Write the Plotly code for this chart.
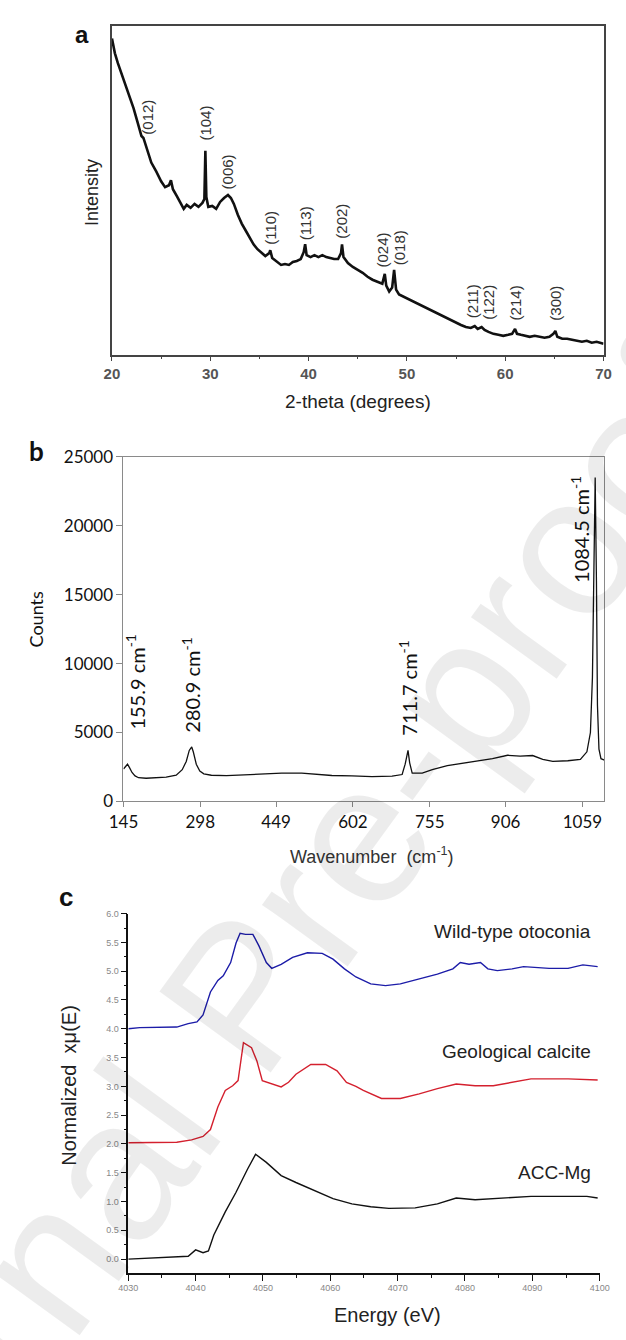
import plotly.graph_objects as go

W, H = 626, 1340

# ---------------- Panel a: XRD ----------------
xrd_2theta = [20.0, 20.3, 20.6, 21.0, 21.4, 21.8, 22.2, 22.6, 23.0, 23.2, 23.5, 24.0, 24.5, 25.0, 25.4,
              25.8, 26.0, 26.2, 26.6, 27.0, 27.3, 27.6, 28.0, 28.4, 28.8, 29.2, 29.4, 29.5, 29.6, 29.8,
              30.2, 30.6, 31.0, 31.4, 31.8, 32.1, 32.4, 32.8, 33.2, 33.6, 34.0, 34.4, 34.8, 35.2, 35.6,
              36.0, 36.1, 36.3, 36.8, 37.2, 37.6, 38.0, 38.4, 38.8, 39.2, 39.5, 39.65, 39.8, 40.2, 40.6,
              41.0, 41.4, 41.8, 42.2, 42.6, 43.0, 43.3, 43.4, 43.55, 44.0, 44.5, 45.0, 45.5, 46.0, 46.5,
              47.0, 47.5, 47.75, 47.9, 48.2, 48.5, 48.7, 48.9, 49.2, 49.6, 50.0, 50.5, 51.0, 51.5, 52.0,
              52.5, 53.0, 53.5, 54.0, 54.5, 55.0, 55.5, 56.0, 56.5, 56.9, 57.2, 57.6, 57.9, 58.3, 58.8,
              59.3, 59.8, 60.3, 60.7, 61.0, 61.2, 61.6, 62.0, 62.5, 63.0, 63.5, 64.0, 64.5, 64.9, 65.1,
              65.3, 65.8, 66.3, 66.8, 67.3, 67.8, 68.3, 68.8, 69.3, 70.0]
xrd_intensity = [321, 306, 296, 285, 274, 262, 250, 236, 222, 220, 210, 195, 186, 176, 170,
                 172, 177, 168, 161, 154, 148, 152, 149, 153, 150, 154, 158, 207, 160, 150,
                 151, 148, 155, 159, 162, 159, 153, 142, 133, 126, 119, 112, 107, 103, 100,
                 103, 106, 98, 94, 91, 92, 91, 94, 95, 97, 104, 112, 101, 99, 101,
                 99, 101, 99, 98, 97, 97, 103, 112, 99, 93, 89, 86, 83, 79, 76,
                 74, 72, 82, 70, 64, 68, 86, 66, 61, 59, 57, 55, 52, 50, 47,
                 45, 42, 40, 37, 35, 32, 30, 28, 27, 29, 26, 28, 25, 23, 21,
                 20, 19, 20, 21, 26, 21, 20, 19, 18, 19, 18, 17, 18, 21, 24,
                 18, 16, 16, 15, 14, 13, 14, 12, 13, 11]
xrd_labels = ["(012)", "(104)", "(006)", "(110)", "(113)", "(202)", "(024)", "(018)",
              "(211)", "(122)", "(214)", "(300)"]
xrd_label_x = [23.6, 29.5, 31.7, 36.1, 39.7, 43.4, 47.5, 49.2, 56.7, 58.3, 61.0, 65.1]
xrd_label_y = [241, 235, 186, 129, 133, 135, 106, 108, 54, 53, 52, 52]
xrd_xticks = [20, 30, 40, 50, 60, 70]

# ---------------- Panel b: Raman ----------------
raman_wavenumber = [145, 150, 153, 157, 162, 168, 175, 190, 210, 230, 250, 262, 270, 276, 280.9,
                    284, 290, 297, 305, 320, 350, 380, 420, 460, 500, 530, 560, 600, 640, 680,
                    700, 706, 711.7, 715, 720, 740, 760, 790, 820, 850, 880, 910, 935, 960, 980,
                    1000, 1030, 1055, 1068, 1075, 1079, 1082, 1084.5, 1087, 1089, 1092, 1096, 1103]
raman_counts = [2350, 2600, 2700, 2450, 2100, 1850, 1720, 1680, 1700, 1760, 1900, 2300, 2900, 3700, 3950,
                3600, 2700, 2200, 2000, 1900, 1870, 1920, 1980, 2050, 2050, 1960, 1880, 1850, 1800, 1830,
                1950, 2700, 3700, 2800, 2050, 2050, 2300, 2600, 2750, 2900, 3100, 3350, 3280, 3330, 3050,
                2900, 2950, 3050, 3600, 5000, 9000, 17000, 23500, 16000, 7000, 3800, 3100, 3000]
raman_labels = ["155.9 cm<sup>-1</sup>", "280.9 cm<sup>-1</sup>", "711.7 cm<sup>-1</sup>",
                "1084.5 cm<sup>-1</sup>"]
raman_label_x = [168, 280, 712, 1053]
raman_label_y = [5070, 4860, 4640, 15700]
raman_xticks = [145, 298, 449, 602, 755, 906, 1059]
raman_yticks = [0, 5000, 10000, 15000, 20000, 25000]

# ---------------- Panel c: XANES ----------------
wt_energy = [4030, 4031.7, 4037.2, 4038.9, 4040.2, 4041.1, 4042.2, 4043.3, 4044.1, 4045.2, 4046.0,
             4046.6, 4047.4, 4048.5, 4049.4, 4050.5, 4051.3, 4052.7, 4054.4, 4056.6, 4058.8, 4060.4,
             4062.1, 4063.8, 4066.0, 4068.2, 4070.4, 4073.2, 4075.9, 4078.2, 4079.3, 4080.6, 4082.3,
             4083.4, 4084.8, 4087.0, 4088.7, 4092.5, 4095.3, 4097.5, 4099.7]
wt_mu = [4.00, 4.02, 4.03, 4.09, 4.12, 4.24, 4.64, 4.84, 4.92, 5.15, 5.49,
         5.66, 5.64, 5.64, 5.44, 5.15, 5.05, 5.12, 5.24, 5.32, 5.31, 5.21,
         5.04, 4.90, 4.78, 4.75, 4.78, 4.87, 4.95, 5.04, 5.15, 5.12, 5.15,
         5.04, 5.01, 5.04, 5.08, 5.05, 5.05, 5.11, 5.08]

geo_energy = [4030, 4031.7, 4037.2, 4039.4, 4041.1, 4042.2, 4043.3, 4044.4, 4045.5, 4046.3, 4046.6,
              4047.1, 4048.3, 4049.1, 4049.9, 4051.6, 4052.7, 4053.8, 4054.9, 4057.1, 4059.3, 4061.0,
              4062.4, 4063.8, 4064.9, 4067.6, 4070.4, 4073.2, 4075.9, 4078.7, 4081.5, 4084.2, 4087.0,
              4089.8, 4095.3, 4099.7]
geo_mu = [2.02, 2.02, 2.03, 2.07, 2.13, 2.25, 2.64, 2.93, 3.01, 3.10, 3.33,
          3.76, 3.67, 3.44, 3.10, 3.04, 2.99, 3.07, 3.21, 3.38, 3.38, 3.27,
          3.07, 3.00, 2.93, 2.79, 2.79, 2.87, 2.96, 3.04, 3.01, 3.01, 3.07,
          3.13, 3.13, 3.11]

acc_energy = [4030, 4035.5, 4038.9, 4040.0, 4041.1, 4041.9, 4042.7, 4044.4, 4046.0, 4047.7, 4048.9,
              4050.5, 4052.7, 4054.9, 4057.7, 4060.4, 4063.2, 4066.0, 4068.7, 4072.6, 4075.9, 4078.7,
              4081.5, 4084.2, 4087.0, 4089.8, 4098.1, 4099.7]
acc_mu = [0.00, 0.03, 0.05, 0.16, 0.11, 0.14, 0.42, 0.82, 1.16, 1.56, 1.82,
          1.68, 1.45, 1.33, 1.19, 1.05, 0.96, 0.91, 0.88, 0.89, 0.96, 1.06,
          1.03, 1.05, 1.06, 1.09, 1.09, 1.06]

xanes_names = ["Wild-type otoconia", "Geological calcite", "ACC-Mg"]
xanes_label_y = [5.69, 3.61, 1.50]
xanes_xticks = [4030, 4040, 4050, 4060, 4070, 4080, 4090, 4100]
xanes_yticks = [0.0, 0.5, 1.0, 1.5, 2.0, 2.5, 3.0, 3.5, 4.0, 4.5, 5.0, 5.5, 6.0]


def px(x):
    return x / W


def py(y):
    return 1 - y / H


fig = go.Figure()

fig.add_trace(go.Scatter(x=xrd_2theta, y=xrd_intensity, mode="lines",
                         line=dict(color="#111111", width=2.6), xaxis="x", yaxis="y",
                         showlegend=False))
fig.add_trace(go.Scatter(x=raman_wavenumber, y=raman_counts, mode="lines",
                         line=dict(color="#111111", width=1.3), xaxis="x2", yaxis="y2",
                         showlegend=False))
fig.add_trace(go.Scatter(x=wt_energy, y=wt_mu, mode="lines",
                         line=dict(color="#1c1ca8", width=1.4), xaxis="x3", yaxis="y3",
                         showlegend=False))
fig.add_trace(go.Scatter(x=geo_energy, y=geo_mu, mode="lines",
                         line=dict(color="#d4202e", width=1.4), xaxis="x3", yaxis="y3",
                         showlegend=False))
fig.add_trace(go.Scatter(x=acc_energy, y=acc_mu, mode="lines",
                         line=dict(color="#111111", width=1.4), xaxis="x3", yaxis="y3",
                         showlegend=False))

ann = []
# XRD peak labels
for t, xv, yv in zip(xrd_labels, xrd_label_x, xrd_label_y):
    ann.append(dict(x=xv, y=yv, xref="x", yref="y", text=t, textangle=-90, showarrow=False,
                    xanchor="center", yanchor="middle",
                    font=dict(family="Liberation Sans", size=15, color="#333333")))
# Raman labels
for t, xv, yv in zip(raman_labels, raman_label_x, raman_label_y):
    ann.append(dict(x=xv, y=yv, xref="x2", yref="y2", text=t, textangle=-90, showarrow=False,
                    xanchor="center", yanchor="bottom",
                    font=dict(family="Lato", size=20, color="#111111")))
# XANES series labels
for t, yv in zip(xanes_names, xanes_label_y):
    ann.append(dict(x=4099, y=yv, xref="x3", yref="y3", text=t, showarrow=False,
                    xanchor="right", yanchor="middle",
                    font=dict(family="Liberation Sans", size=19, color="#222222")))


# Axis titles and panel letters (paper coordinates)
def paper_text(text, x, y, size, family="Liberation Sans", color="#222222", angle=0, bold=False):
    ann.append(dict(x=px(x), y=py(y), xref="paper", yref="paper", text=text, showarrow=False,
                    textangle=angle, xanchor="center", yanchor="middle",
                    font=dict(family=family, size=size, color=color,
                              weight="bold" if bold else "normal")))


paper_text("2-theta (degrees)", 357, 397, 19)
paper_text("Intensity", 80, 184, 18, angle=-90)
paper_text("Counts", 22, 618, 18, family="Lato", color="#111111", angle=-90)
paper_text("Wavenumber  (cm<sup>-1</sup>)", 372, 858, 18, color="#333333")
paper_text("Energy (eV)", 388, 1325, 20)
paper_text("Normalized  xμ(E)", 56, 1092, 20, angle=-90)
paper_text("a", 70, 24, 24, bold=True, color="#111111")
paper_text("b", 22, 447, 26, family="Lato", bold=True, color="#111111")
paper_text("c", 53, 900, 26, bold=True, color="#111111")

# Watermark
ann.append(dict(x=px(235), y=py(1000), xref="paper", yref="paper", text="Journal Pre-proof",
                showarrow=False, textangle=-54, xanchor="center", yanchor="middle",
                font=dict(family="Liberation Sans", size=200, color="rgba(0,0,0,0.075)")))

fig.update_layout(
    width=W, height=H,
    margin=dict(l=0, r=0, t=0, b=0),
    paper_bgcolor="white", plot_bgcolor="white",
    showlegend=False,
    annotations=ann,
    xaxis=dict(domain=[px(101), px(613)], range=[20, 70], anchor="y",
               tickmode="array", tickvals=xrd_xticks, ticks="outside", ticklen=5,
               tickcolor="#444", tickwidth=1.3,
               minor=dict(dtick=5, ticks="outside", ticklen=3, tickcolor="#444", tickwidth=1.3),
               showline=True, linecolor="#444", linewidth=1.5, mirror=True,
               showgrid=False, zeroline=False,
               tickfont=dict(family="Liberation Sans", size=15, color="#555555", weight="bold")),
    yaxis=dict(domain=[py(349), py(15)], range=[0, 334], anchor="x",
               showticklabels=False, ticks="", showline=True, linecolor="#444", linewidth=1.5,
               mirror=True, showgrid=False, zeroline=False),
    xaxis2=dict(domain=[px(113), px(614)], range=[145, 1103], anchor="y2",
                tickmode="array", tickvals=raman_xticks, ticktext=[str(v) for v in raman_xticks],
                ticks="outside", ticklen=5,
                tickcolor="#888", showline=True, linecolor="#8a8a8a", linewidth=1, mirror=True,
                showgrid=False, zeroline=False,
                tickfont=dict(family="Lato", size=17, color="#111111")),
    yaxis2=dict(domain=[py(803), py(453)], range=[0, 25000], anchor="x2",
                tickmode="array", tickvals=raman_yticks, ticktext=[str(v) for v in raman_yticks],
                ticks="outside", ticklen=6,
                tickcolor="#888", showline=True, linecolor="#8a8a8a", linewidth=1, mirror=True,
                showgrid=False, zeroline=False,
                tickfont=dict(family="Lato", size=17, color="#111111")),
    xaxis3=dict(domain=[px(118), px(609)], range=[4030, 4100], anchor="y3",
                tickmode="array", tickvals=xanes_xticks, ticks="outside", ticklen=6,
                tickcolor="#111", tickwidth=1.3,
                minor=dict(dtick=5, ticks="outside", ticklen=3, tickcolor="#111", tickwidth=1.2),
                showline=True, linecolor="#111", linewidth=1.5, showgrid=False, zeroline=False,
                tickfont=dict(family="Liberation Sans", size=9, color="#888888")),
    yaxis3=dict(domain=[py(1282), py(917)], range=[-0.24, 6.0], anchor="x3",
                tickmode="array", tickvals=xanes_yticks, ticktext=[f"{v:.1f}" for v in xanes_yticks],
                ticks="outside", ticklen=6, tickcolor="#111", tickwidth=1.3,
                minor=dict(dtick=0.25, tick0=0, ticks="outside", ticklen=3, tickcolor="#111",
                           tickwidth=1.2),
                showline=True, linecolor="#111", linewidth=1.5, showgrid=False, zeroline=False,
                tickfont=dict(family="Liberation Sans", size=9, color="#888888")),
)

fig.write_html("out.html", config={"displayModeBar": False},
               post_script="document.body.style.margin='0';document.body.style.overflow='hidden';")
